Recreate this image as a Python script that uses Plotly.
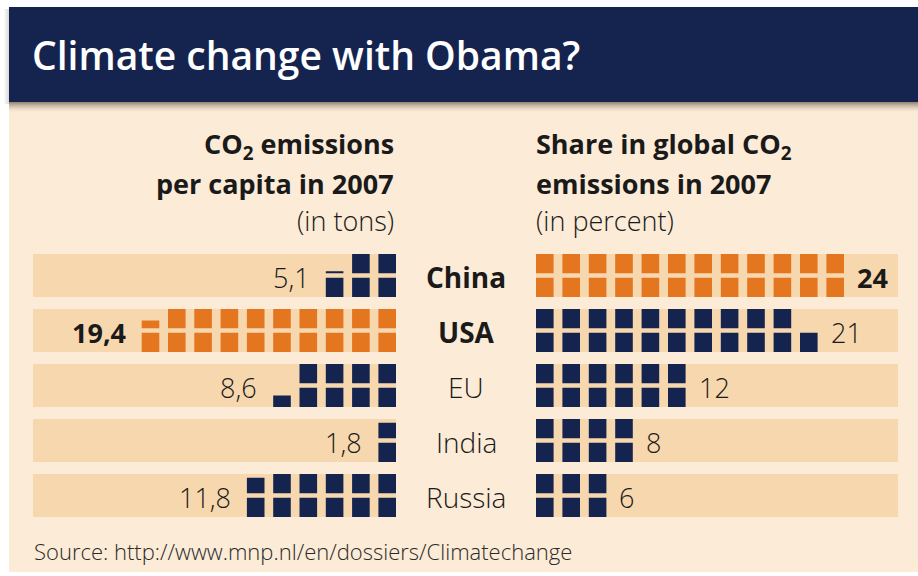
import math
import plotly.graph_objects as go

# ---------------- data ----------------
countries = ["China", "USA", "EU", "India", "Russia"]
per_capita = [5.1, 19.4, 8.6, 1.8, 11.8]          # tons CO2 per capita, 2007
share = [24, 21, 12, 8, 6]                          # % of global CO2, 2007
per_capita_labels = ["5,1", "19,4", "8,6", "1,8", "11,8"]
share_labels = ["24", "21", "12", "8", "6"]

title = "Climate change with Obama?"
left_head = ["CO<sub>2</sub> emissions", "per capita in 2007", "(in tons)"]
right_head = ["Share in global CO<sub>2</sub>", "emissions in 2007", "(in percent)"]
source = "Source: http://www.mnp.nl/en/dossiers/Climatechange"

# ---------------- style / layout ----------------
W, H = 918, 576
NAVY = "#15244f"
ORANGE = "#e57620"
BAND = "#f7d7ae"
CREAM = "#fcebd6"
TXT = "#1a1a1a"
FONT = "Open Sans"

SQ_W, SQ_H, SQ_GAP = 17.6, 19.2, 4.6
L_EDGE, L_STEP = 396.0, 26.3     # right edge of left panel squares
R_EDGE, R_STEP = 536.0, 26.4     # left edge of right panel squares
ROW_TOP0, ROW_PITCH = 254.0, 55.0
BAND_H = 2 * SQ_H + SQ_GAP
L_BAND = (33, 396)
R_BAND = (536, 898)
CENTER_X = 466


def squares(value, side, row):
    """Return list of (x_left, bottom, height) for each square of a value (1 unit per square)."""
    out = []
    n_full = int(math.floor(value + 1e-9))
    frac = value - n_full
    top = ROW_TOP0 + row * ROW_PITCH
    total = n_full + (1 if frac > 1e-6 else 0)
    for k in range(total):
        c = k // 2
        pos = k % 2  # 0 bottom, 1 top
        if side == "L":
            xl = L_EDGE - c * L_STEP - SQ_W
        else:
            xl = R_EDGE + c * R_STEP
        bottom = top + BAND_H if pos == 0 else top + SQ_H
        h = SQ_H if k < n_full else frac * SQ_H
        out.append((xl, bottom, h))
    return out


fig = go.Figure()

shapes = []
shapes.append(dict(type="rect", xref="x", yref="y", x0=9, x1=W, y0=102, y1=572,
                   fillcolor=CREAM, line_width=0, layer="below"))
# header shadow
for i in range(10):
    a = 0.55 * (1 - i / 10) ** 1.6
    shapes.append(dict(type="rect", xref="x", yref="y", x0=9, x1=W, y0=102 + i, y1=103 + i,
                       fillcolor=f"rgba(70,60,45,{a:.3f})", line_width=0, layer="below"))
for i in range(5):
    a = 0.18 * (1 - i / 5)
    shapes.append(dict(type="rect", xref="x", yref="y", x0=8 - i, x1=9 - i, y0=9, y1=104,
                       fillcolor=f"rgba(70,60,45,{a:.3f})", line_width=0, layer="below"))
shapes.append(dict(type="rect", xref="x", yref="y", x0=9, x1=W, y0=7, y1=102,
                   fillcolor=NAVY, line_width=0, layer="below"))
# row bands
for i in range(len(countries)):
    top = ROW_TOP0 + i * ROW_PITCH
    for (a, b) in (L_BAND, R_BAND):
        shapes.append(dict(type="rect", xref="x", yref="y", x0=a, x1=b, y0=top, y1=top + BAND_H,
                           fillcolor=BAND, line_width=0, layer="below"))

i_max_l = per_capita.index(max(per_capita))
i_max_r = share.index(max(share))

for side, vals, imax in (("L", per_capita, i_max_l), ("R", share, i_max_r)):
    for color, pick in ((NAVY, lambda i: i != imax), (ORANGE, lambda i: i == imax)):
        xs, ys = [], []
        for i, v in enumerate(vals):
            if not pick(i):
                continue
            for (xl, bottom, h) in squares(v, side, i):
                xr = xl + SQ_W
                xs += [xl, xr, xr, xl, xl, None]
                ys += [bottom, bottom, bottom - h, bottom - h, bottom, None]
        fig.add_trace(go.Scatter(x=xs, y=ys, mode="lines", fill="toself", fillcolor=color,
                                 line=dict(width=0, color=color),
                                 hoverinfo="skip", showlegend=False))

ann = []
# value labels
for i, v in enumerate(per_capita):
    sq = squares(v, "L", i)
    xl = min(s[0] for s in sq)
    yc = ROW_TOP0 + i * ROW_PITCH + BAND_H / 2 + 1.5
    bold = i == i_max_l
    ann.append(dict(x=xl - 14, y=yc, text=per_capita_labels[i], xanchor="right", yanchor="middle",
                    font=dict(family=FONT, size=27, color=TXT, weight=700 if bold else 300)))
for i, v in enumerate(share):
    sq = squares(v, "R", i)
    xr = max(s[0] for s in sq) + SQ_W
    yc = ROW_TOP0 + i * ROW_PITCH + BAND_H / 2 + 1.5
    bold = i == i_max_r
    ann.append(dict(x=xr + 11, y=yc, text=share_labels[i], xanchor="left", yanchor="middle",
                    font=dict(family=FONT, size=27, color=TXT, weight=700 if bold else 300)))
# country labels
for i, c in enumerate(countries):
    yc = ROW_TOP0 + i * ROW_PITCH + BAND_H / 2 + 1.5
    bold = i in (i_max_l, i_max_r)
    ann.append(dict(x=CENTER_X, y=yc, text=c, xanchor="center", yanchor="middle",
                    font=dict(family=FONT, size=28, color=TXT, weight=700 if bold else 300)))
# headings
head_y = [145, 183, 220]
for j, (lt, rt) in enumerate(zip(left_head, right_head)):
    w = 700 if j < 2 else 300
    ann.append(dict(x=396, y=head_y[j], text=lt, xanchor="right", yanchor="middle",
                    font=dict(family=FONT, size=27, color=TXT, weight=w)))
    ann.append(dict(x=534, y=head_y[j], text=rt, xanchor="left", yanchor="middle",
                    font=dict(family=FONT, size=27, color=TXT, weight=w)))
# title
ann.append(dict(x=30, y=54, text=title, xanchor="left", yanchor="middle",
                font=dict(family=FONT, size=39, color="white", weight=600)))
# source
ann.append(dict(x=32, y=551, text=source, xanchor="left", yanchor="middle",
                font=dict(family=FONT, size=22, color="#2a2a2a", weight=300)))

for a in ann:
    a.update(xref="x", yref="y", showarrow=False)

fig.update_layout(
    width=W, height=H,
    margin=dict(l=0, r=0, t=0, b=0),
    paper_bgcolor="white", plot_bgcolor="white",
    xaxis=dict(range=[0, W], visible=False, fixedrange=True),
    yaxis=dict(range=[H, 0], visible=False, fixedrange=True),
    shapes=shapes, annotations=ann,
)

fig.write_html("out.html")
